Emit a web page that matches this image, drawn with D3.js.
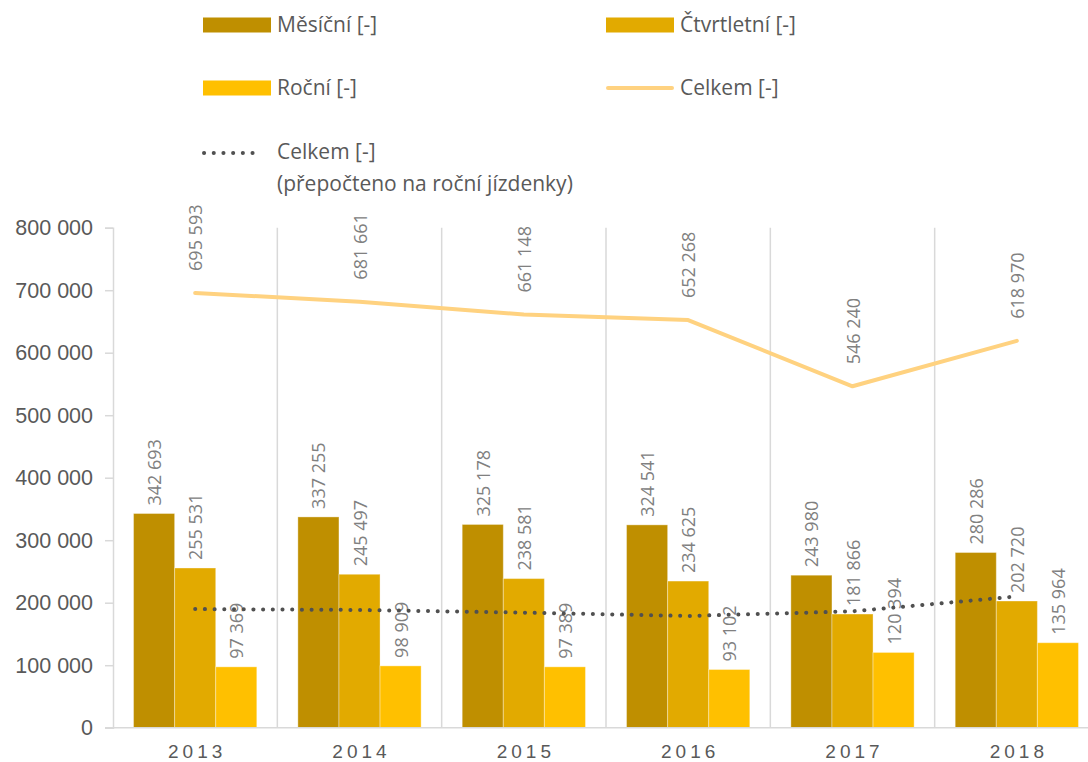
<!DOCTYPE html>
<html lang="en">
<head>
  <meta charset="utf-8">
  <script src="https://d3js.org/d3.v7.min.js"></script>
  <title>Jízdenky podle typu</title>
<style>
  body { margin: 0; background: #fff; }
  svg { display: block; font-family: "Open Sans", sans-serif; }
  .tick-label { font-size: 21.5px; fill: #595959; }
  .year-label { font-size: 19px; fill: #595959; letter-spacing: 4px; }
  .val { font-size: 18px; fill: #808080; }
  .legend text { font-size: 21px; fill: #595959; }
</style>
</head>
<body>
<svg id="chart" width="1088" height="762"></svg>
<script>

// data
var years = ["2013", "2014", "2015", "2016", "2017", "2018"];
var mesicni = [342693, 337255, 325178, 324541, 243980, 280286];
var ctvrtletni = [255531, 245497, 238581, 234625, 181866, 202720];
var rocni = [97369, 98909, 97389, 93102, 120394, 135964];
var celkem = [695593, 681661, 661148, 652268, 546240, 618970];
var celkemPrepocteno = [189810, 188388, 184132, 178803, 186193, 210001];
var yTicks = [0, 100000, 200000, 300000, 400000, 500000, 600000, 700000, 800000];

var barKeys = ["Měsíční [-]", "Čtvrtletní [-]", "Roční [-]"];
var barColors = ["#bf8f00", "#e2aa00", "#ffc000"];
var barSeries = [mesicni, ctvrtletni, rocni];

var svg = d3.select("#chart");

var plotLeft = 113, plotRight = 1099, plotTop = 227.7, plotBottom = 727.7;

var x = d3.scaleBand().domain(years).range([plotLeft, plotRight]).padding(0);
var inner = d3.scaleBand().domain(d3.range(3))
    .range([x.bandwidth() * 0.125, x.bandwidth() * 0.875]).padding(0);
var y = d3.scaleLinear().domain([0, 800000]).range([plotBottom, plotTop]);

var fmt = function(v) { return d3.format(",")(v).replace(/,/g, " "); };

// vertical gridlines between categories
svg.append("g")
  .selectAll("line")
  .data(years)
  .enter().append("line")
    .attr("x1", function(d) { return x(d) + x.bandwidth(); })
    .attr("x2", function(d) { return x(d) + x.bandwidth(); })
    .attr("y1", plotTop)
    .attr("y2", plotBottom)
    .attr("stroke", "#d9d9d9")
    .attr("stroke-width", 1.5);

// y axis
var yAxis = svg.append("g")
    .attr("transform", "translate(" + plotLeft + ",0)")
    .call(d3.axisLeft(y).tickValues(yTicks).tickSize(8).tickPadding(12).tickFormat(fmt));
yAxis.select(".domain").attr("stroke", "#d9d9d9").attr("stroke-width", 1.5);
yAxis.selectAll(".tick line").attr("stroke", "#d9d9d9").attr("stroke-width", 1.5);
yAxis.selectAll(".tick text").attr("class", "tick-label").attr("font-family", null).attr("font-size", null).attr("fill", null);

// bars
barSeries.forEach(function(vals, k) {
  var g = svg.append("g");
  g.selectAll("rect")
    .data(vals)
    .enter().append("rect")
      .attr("x", function(d, i) { return x(years[i]) + inner(k); })
      .attr("y", function(d) { return y(d); })
      .attr("width", inner.bandwidth())
      .attr("height", function(d) { return plotBottom - y(d); })
      .attr("fill", barColors[k])
      .attr("stroke", "rgba(255,255,255,0.35)")
      .attr("stroke-width", 1);

  g.selectAll("text")
    .data(vals)
    .enter().append("text")
      .attr("class", "val")
      .attr("transform", function(d, i) {
        var cx = x(years[i]) + inner(k) + inner.bandwidth() / 2;
        return "translate(" + (cx + 7) + "," + (y(d) - 8) + ") rotate(-90)";
      })
      .text(fmt);
});

// x axis baseline
var xAxis = svg.append("g")
    .attr("transform", "translate(0," + plotBottom + ")")
    .call(d3.axisBottom(x).tickSize(0).tickPadding(17));
xAxis.select(".domain").attr("stroke", "#d9d9d9").attr("stroke-width", 1.5)
    .attr("d", "M" + (plotLeft - 8) + ",0H" + plotRight);
xAxis.selectAll(".tick text").attr("class", "year-label").attr("font-family", null).attr("font-size", null).attr("fill", null)
    .attr("dx", "2px");

var cx = function(d, i) { return x(years[i]) + x.bandwidth() / 2; };

// Celkem line
svg.append("path")
  .datum(celkem)
  .attr("fill", "none")
  .attr("stroke", "#ffd280")
  .attr("stroke-width", 4)
  .attr("stroke-linejoin", "round")
  .attr("stroke-linecap", "round")
  .attr("d", d3.line().x(cx).y(function(d) { return y(d); }));

svg.append("g").selectAll("text")
  .data(celkem)
  .enter().append("text")
    .attr("class", "val")
    .attr("transform", function(d, i) {
      return "translate(" + (cx(d, i) + 7) + "," + (y(d) - 22) + ") rotate(-90)";
    })
    .text(fmt);

// dotted Celkem (přepočteno)
svg.append("path")
  .datum(celkemPrepocteno)
  .attr("fill", "none")
  .attr("stroke", "#505050")
  .attr("stroke-width", 4)
  .attr("stroke-linecap", "round")
  .attr("stroke-dasharray", "0.1 9.6")
  .attr("d", d3.line().x(cx).y(function(d) { return y(d); }));

// legend
var legend = svg.append("g").attr("class", "legend");

var items = [
  {label: barKeys[0], type: "rect", color: barColors[0], x: 203, y: 25},
  {label: barKeys[1], type: "rect", color: barColors[1], x: 606, y: 25},
  {label: barKeys[2], type: "rect", color: barColors[2], x: 203, y: 88},
  {label: "Celkem [-]", type: "line", color: "#ffd280", x: 606, y: 88}
];

items.forEach(function(it) {
  if (it.type === "rect") {
    legend.append("rect")
      .attr("x", it.x).attr("y", it.y - 7.5)
      .attr("width", 68).attr("height", 15)
      .attr("fill", it.color);
  } else {
    legend.append("line")
      .attr("x1", it.x + 2).attr("x2", it.x + 66)
      .attr("y1", it.y).attr("y2", it.y)
      .attr("stroke", it.color).attr("stroke-width", 4)
      .attr("stroke-linecap", "round");
  }
  legend.append("text")
    .attr("x", it.x + 74).attr("y", it.y)
    .attr("dy", "0.35em")
    .text(it.label);
});

legend.append("line")
  .attr("x1", 204).attr("x2", 262)
  .attr("y1", 153).attr("y2", 153)
  .attr("stroke", "#505050").attr("stroke-width", 4)
  .attr("stroke-linecap", "round")
  .attr("stroke-dasharray", "0.1 9.6");

var t = legend.append("text").attr("x", 277).attr("y", 152).attr("dy", "0.35em");
t.append("tspan").attr("x", 277).text("Celkem [-]");
t.append("tspan").attr("x", 277).attr("dy", "1.5em").text("(přepočteno na roční jízdenky)");

</script>
</body>
</html>
